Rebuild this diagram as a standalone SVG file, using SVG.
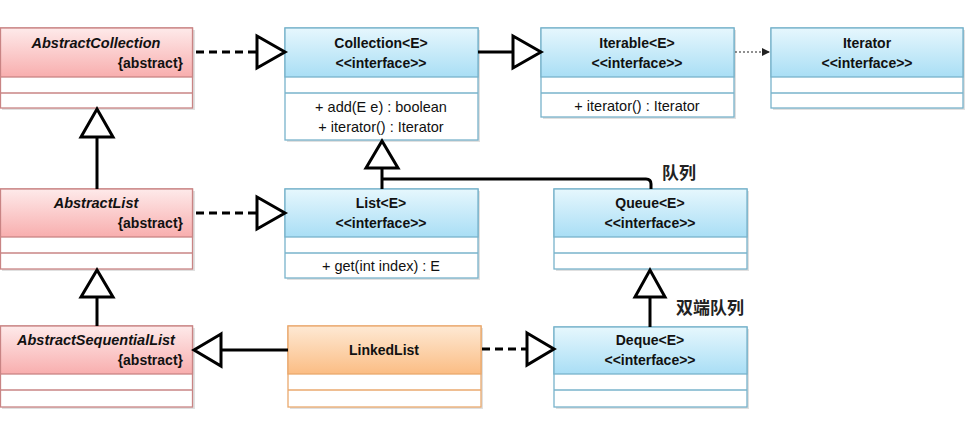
<svg xmlns="http://www.w3.org/2000/svg" width="972" height="426" viewBox="0 0 972 426">
<defs>
<linearGradient id="gRed" x1="0" y1="0" x2="0" y2="1"><stop offset="0" stop-color="#feeaea"/><stop offset="1" stop-color="#f8aeae"/></linearGradient>
<linearGradient id="gBlue" x1="0" y1="0" x2="0" y2="1"><stop offset="0" stop-color="#e6f7fd"/><stop offset="1" stop-color="#a9def5"/></linearGradient>
<linearGradient id="gOrange" x1="0" y1="0" x2="0" y2="1"><stop offset="0" stop-color="#fee9d4"/><stop offset="1" stop-color="#fbbd84"/></linearGradient>
<marker id="smallArrow" viewBox="0 0 8 8" refX="8" refY="4" markerWidth="8" markerHeight="8" markerUnits="userSpaceOnUse" orient="auto"><path d="M0,0 L8,4 L0,8 Z" fill="#222"/></marker>
</defs>
<style>
text{font-family:"Liberation Sans",Arial,sans-serif;font-size:14px;fill:#111;}
.t{font-weight:bold;text-anchor:middle;}
.ti{font-weight:bold;font-style:italic;text-anchor:middle;font-size:14.5px;}
.ab{font-weight:bold;text-anchor:end;}
.m{text-anchor:middle;font-size:14.5px;}
.cn{font-family:"Liberation Sans","Noto Sans CJK SC",sans-serif;font-size:17px;font-weight:bold;fill:#222;}
.shadow{fill:#000;opacity:0.12;}
.red rect.b{fill:#fff;stroke:#c98484;stroke-width:1.3;}
.red rect.h{fill:url(#gRed);stroke:#c98484;stroke-width:1.3;}
.red line{stroke:#c98484;stroke-width:1.3;}
.blue rect.b{fill:#fff;stroke:#78b3cb;stroke-width:1.3;}
.blue rect.h{fill:url(#gBlue);stroke:#78b3cb;stroke-width:1.3;}
.blue line{stroke:#78b3cb;stroke-width:1.3;}
.orange rect.b{fill:#fff;stroke:#eaa96e;stroke-width:1.3;}
.orange rect.h{fill:url(#gOrange);stroke:#eaa96e;stroke-width:1.3;}
.orange line{stroke:#eaa96e;stroke-width:1.3;}
.ln{stroke:#000;stroke-width:3;fill:none;}
.dash{stroke:#000;stroke-width:3;fill:none;stroke-dasharray:8,5;}
.dot{stroke:#222;stroke-width:1.2;fill:none;stroke-dasharray:2,2;}
.tri{fill:#fff;stroke:#000;stroke-width:3;stroke-linejoin:miter;}
</style>

<g id="AbstractCollection" class="red">
<rect class="shadow" x="2" y="30" width="193" height="80"/>
<rect class="b" x="0.5" y="28" width="192" height="80"/>
<rect class="h" x="0.5" y="28" width="192" height="49"/>
<line x1="0.5" y1="93" x2="192.5" y2="93"/>
<text class="ti" x="96" y="48">AbstractCollection</text>
<text class="ab" x="183" y="68">{abstract}</text>
</g>

<g id="Collection" class="blue">
<rect class="shadow" x="287" y="30" width="193" height="112"/>
<rect class="b" x="285" y="28" width="193" height="112"/>
<rect class="h" x="285" y="28" width="193" height="49"/>
<line x1="285" y1="93" x2="478" y2="93"/>
<text class="t" x="381" y="48">Collection&lt;E&gt;</text>
<text class="t" x="381" y="68">&lt;&lt;interface&gt;&gt;</text>
<text class="m" x="381" y="112">+ add(E e) : boolean</text>
<text class="m" x="381" y="132">+ iterator() : Iterator</text>
</g>

<g id="Iterable" class="blue">
<rect class="shadow" x="543" y="30" width="193" height="89"/>
<rect class="b" x="541" y="28" width="193" height="89"/>
<rect class="h" x="541" y="28" width="193" height="49"/>
<line x1="541" y1="93" x2="734" y2="93"/>
<text class="t" x="637" y="48">Iterable&lt;E&gt;</text>
<text class="t" x="637" y="68">&lt;&lt;interface&gt;&gt;</text>
<text class="m" x="637" y="111">+ iterator() : Iterator</text>
</g>

<g id="Iterator" class="blue">
<rect class="shadow" x="773" y="30" width="192" height="80"/>
<rect class="b" x="771" y="28" width="192" height="80"/>
<rect class="h" x="771" y="28" width="192" height="49"/>
<line x1="771" y1="93" x2="963" y2="93"/>
<text class="t" x="867" y="48">Iterator</text>
<text class="t" x="867" y="68">&lt;&lt;interface&gt;&gt;</text>
</g>

<g id="AbstractList" class="red">
<rect class="shadow" x="2" y="191" width="193" height="80"/>
<rect class="b" x="0.5" y="189" width="192" height="80"/>
<rect class="h" x="0.5" y="189" width="192" height="48"/>
<line x1="0.5" y1="253" x2="192.5" y2="253"/>
<text class="ti" x="96" y="208">AbstractList</text>
<text class="ab" x="183" y="228">{abstract}</text>
</g>

<g id="List" class="blue">
<rect class="shadow" x="287" y="191" width="193" height="89"/>
<rect class="b" x="285" y="189" width="193" height="89"/>
<rect class="h" x="285" y="189" width="193" height="48"/>
<line x1="285" y1="253" x2="478" y2="253"/>
<text class="t" x="381" y="208">List&lt;E&gt;</text>
<text class="t" x="381" y="228">&lt;&lt;interface&gt;&gt;</text>
<text class="m" x="381" y="271">+ get(int index) : E</text>
</g>

<g id="Queue" class="blue">
<rect class="shadow" x="556" y="191" width="193" height="80"/>
<rect class="b" x="554" y="189" width="193" height="80"/>
<rect class="h" x="554" y="189" width="193" height="48"/>
<line x1="554" y1="253" x2="747" y2="253"/>
<text class="t" x="650" y="208">Queue&lt;E&gt;</text>
<text class="t" x="650" y="228">&lt;&lt;interface&gt;&gt;</text>
</g>

<g id="AbstractSequentialList" class="red">
<rect class="shadow" x="2" y="328" width="193" height="81"/>
<rect class="b" x="0.5" y="326" width="192" height="81"/>
<rect class="h" x="0.5" y="326" width="192" height="48"/>
<line x1="0.5" y1="390" x2="192.5" y2="390"/>
<text class="ti" x="96" y="345">AbstractSequentialList</text>
<text class="ab" x="183" y="365">{abstract}</text>
</g>

<g id="LinkedList" class="orange">
<rect class="shadow" x="290" y="328" width="193" height="81"/>
<rect class="b" x="288" y="326" width="193" height="81"/>
<rect class="h" x="288" y="326" width="193" height="48"/>
<line x1="288" y1="390" x2="481" y2="390"/>
<text class="t" x="384" y="355">LinkedList</text>
</g>

<g id="Deque" class="blue">
<rect class="shadow" x="556" y="329" width="193" height="80"/>
<rect class="b" x="554" y="327" width="193" height="80"/>
<rect class="h" x="554" y="327" width="193" height="47"/>
<line x1="554" y1="390" x2="747" y2="390"/>
<text class="t" x="650" y="345">Deque&lt;E&gt;</text>
<text class="t" x="650" y="365">&lt;&lt;interface&gt;&gt;</text>
</g>

<g id="connectors">
<line class="dash" x1="196" y1="52" x2="257" y2="52"/>
<polygon class="tri" points="257,36 285,52 257,68"/>
<line class="ln" x1="478" y1="52" x2="513" y2="52"/>
<polygon class="tri" points="513,36 541,52 513,68"/>
<line class="dot" x1="735" y1="52" x2="770" y2="52" marker-end="url(#smallArrow)"/>
<line class="ln" x1="97" y1="189" x2="97" y2="137"/>
<polygon class="tri" points="81,137 97,109 113,137"/>
<line class="dash" x1="196" y1="213" x2="257" y2="213"/>
<polygon class="tri" points="257,197 285,213 257,229"/>
<polygon class="tri" points="366,168 382,141 398,168"/>
<line class="ln" x1="382" y1="168" x2="382" y2="189"/>
<path class="ln" d="M382,179 H646 Q651,179 651,184 V189"/>
<line class="ln" x1="97" y1="326" x2="97" y2="297"/>
<polygon class="tri" points="81,297 97,270 113,297"/>
<line class="ln" x1="288" y1="350" x2="221" y2="350"/>
<polygon class="tri" points="221,334 194,350 221,366"/>
<line class="dash" x1="482" y1="349" x2="527" y2="349"/>
<polygon class="tri" points="527,333 554,349 527,365"/>
<line class="ln" x1="650" y1="327" x2="650" y2="297"/>
<polygon class="tri" points="635,297 650,270 665,297"/>
</g>

<text class="cn" x="662" y="179">队列</text>
<text class="cn" x="676" y="314">双端队列</text>
</svg>
